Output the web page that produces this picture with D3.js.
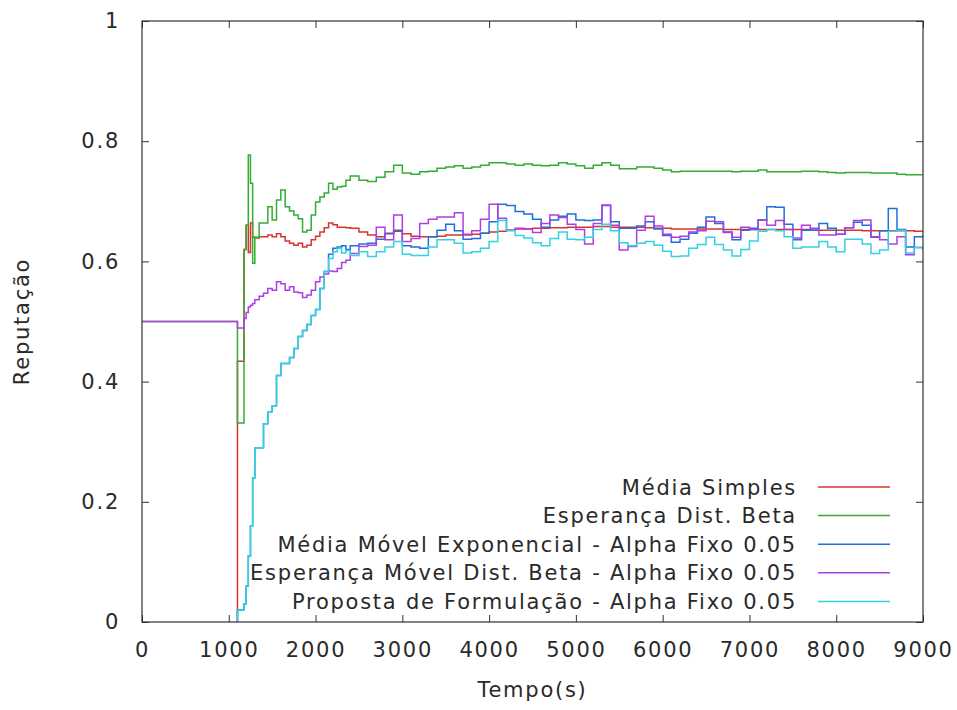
<!DOCTYPE html>
<html>
<head>
<meta charset="utf-8">
<script src="https://cdn.jsdelivr.net/npm/d3@7"></script>
<style>
  html, body { margin: 0; padding: 0; background: #fff; }
  svg { display: block; }
  text { font-family: "DejaVu Sans", sans-serif; fill: #2a2a2a; }
</style>
</head>
<body>
<svg id="chart" width="957" height="710"></svg>
<script>
// Tempo (s) de cada amostra
const tempo = [0, 1090, 1100, 1175, 1200, 1225, 1250, 1275,
  1300, 1350, 1400, 1450, 1500, 1550, 1600, 1650, 1700, 1750, 1800, 1850,
  1900, 1950, 2000, 2050, 2100, 2150, 2200, 2250, 2300, 2350, 2400,
  2500, 2600, 2700, 2800, 2900, 3000, 3100, 3200, 3300, 3400, 3500,
  3600, 3700, 3800, 3900, 4000, 4100, 4200, 4300, 4400, 4500, 4600,
  4700, 4800, 4900, 5000, 5100, 5200, 5300, 5400, 5500, 5600, 5700,
  5800, 5900, 6000, 6100, 6200, 6300, 6400, 6500, 6600, 6700, 6800,
  6900, 7000, 7100, 7200, 7300, 7400, 7500, 7600, 7700, 7800, 7900,
  8000, 8100, 8200, 8300, 8400, 8500, 8600, 8700, 8800, 8900, 9000];

// Média Simples
const mediaSimples = [null, 0, 0.434, 0.62, 0.66, 0.615, 0.664, 0.64,
  0.639, 0.641, 0.641, 0.644, 0.641, 0.646, 0.641, 0.634, 0.630, 0.627, 0.630, 0.624,
  0.627, 0.636, 0.642, 0.649, 0.656, 0.664, 0.661, 0.657, 0.657, 0.656, 0.655,
  0.649, 0.644, 0.641, 0.647, 0.650, 0.646, 0.642, 0.641, 0.641, 0.642, 0.644,
  0.644, 0.644, 0.645, 0.647, 0.649, 0.650, 0.652, 0.654, 0.654, 0.655, 0.655,
  0.656, 0.656, 0.657, 0.657, 0.657, 0.658, 0.658, 0.657, 0.657, 0.657, 0.657,
  0.656, 0.655, 0.655, 0.654, 0.654, 0.654, 0.654, 0.654, 0.654, 0.653, 0.653,
  0.653, 0.653, 0.653, 0.653, 0.653, 0.653, 0.653, 0.653, 0.652, 0.652, 0.652,
  0.652, 0.652, 0.652, 0.651, 0.651, 0.651, 0.651, 0.651, 0.651, 0.650, 0.650];

// Esperança Dist. Beta
const esperancaBeta = [0.5, 0.5, 0.331, 0.62, 0.66, 0.777, 0.73, 0.597,
  0.64, 0.664, 0.664, 0.691, 0.669, 0.702, 0.719, 0.691, 0.684, 0.677, 0.671, 0.649,
  0.652, 0.677, 0.699, 0.707, 0.714, 0.730, 0.720, 0.724, 0.725, 0.735, 0.742,
  0.735, 0.733, 0.740, 0.749, 0.760, 0.747, 0.745, 0.749, 0.750, 0.755, 0.757,
  0.759, 0.755, 0.757, 0.760, 0.764, 0.764, 0.762, 0.760, 0.762, 0.760, 0.759,
  0.760, 0.764, 0.762, 0.759, 0.755, 0.760, 0.764, 0.760, 0.754, 0.754, 0.757,
  0.757, 0.755, 0.752, 0.749, 0.750, 0.750, 0.750, 0.750, 0.750, 0.750, 0.749,
  0.750, 0.750, 0.752, 0.749, 0.749, 0.749, 0.749, 0.750, 0.750, 0.749, 0.748,
  0.747, 0.748, 0.748, 0.748, 0.747, 0.747, 0.747, 0.745, 0.744, 0.744, 0.744];

// Média Móvel Exponencial - Alpha Fixo 0.05
const mediaMovelExp = [null, 0, 0.02, 0.03, 0.06, 0.11, 0.16, 0.24,
  0.29, 0.29, 0.33, 0.35, 0.36, 0.41, 0.43, 0.43, 0.44, 0.455, 0.475, 0.485,
  0.495, 0.51, 0.52, 0.555, 0.583, 0.612, 0.622, 0.624, 0.626, 0.620, 0.626,
  0.629, 0.630, 0.637, 0.646, 0.652, 0.626, 0.624, 0.622, 0.641, 0.652, 0.662,
  0.651, 0.637, 0.638, 0.647, 0.666, 0.695, 0.693, 0.683, 0.679, 0.670, 0.657,
  0.669, 0.675, 0.679, 0.669, 0.668, 0.669, 0.693, 0.666, 0.655, 0.655, 0.659,
  0.666, 0.654, 0.643, 0.632, 0.637, 0.647, 0.657, 0.674, 0.663, 0.649, 0.636,
  0.652, 0.655, 0.669, 0.691, 0.690, 0.662, 0.636, 0.652, 0.652, 0.663, 0.655,
  0.645, 0.656, 0.665, 0.660, 0.640, 0.651, 0.688, 0.653, 0.624, 0.641, 0.644];

// Esperança Móvel Dist. Beta - Alpha Fixo 0.05
const esperancaMovelBeta = [0.5, 0.5, 0.489, 0.505, 0.515, 0.524, 0.527, 0.530,
  0.536, 0.542, 0.547, 0.555, 0.552, 0.566, 0.563, 0.552, 0.558, 0.549, 0.548, 0.540,
  0.544, 0.552, 0.566, 0.574, 0.579, 0.584, 0.583, 0.588, 0.598, 0.602, 0.613,
  0.625, 0.627, 0.657, 0.636, 0.677, 0.633, 0.638, 0.663, 0.670, 0.674, 0.674,
  0.681, 0.645, 0.651, 0.670, 0.695, 0.672, 0.652, 0.655, 0.654, 0.648, 0.663,
  0.677, 0.673, 0.662, 0.653, 0.629, 0.663, 0.694, 0.660, 0.619, 0.625, 0.652,
  0.675, 0.659, 0.645, 0.640, 0.642, 0.649, 0.651, 0.667, 0.666, 0.648, 0.640,
  0.657, 0.653, 0.669, 0.660, 0.668, 0.653, 0.639, 0.660, 0.655, 0.644, 0.644,
  0.645, 0.656, 0.668, 0.669, 0.641, 0.636, 0.629, 0.641, 0.611, 0.623, 0.619];

// Proposta de Formulação - Alpha Fixo 0.05
const proposta = [null, 0, 0.02, 0.03, 0.06, 0.11, 0.16, 0.24,
  0.29, 0.29, 0.33, 0.35, 0.36, 0.41, 0.43, 0.43, 0.44, 0.455, 0.475, 0.485,
  0.495, 0.51, 0.52, 0.555, 0.583, 0.605, 0.616, 0.622, 0.614, 0.618, 0.610,
  0.616, 0.608, 0.616, 0.624, 0.633, 0.612, 0.610, 0.610, 0.624, 0.636, 0.636,
  0.630, 0.614, 0.616, 0.622, 0.633, 0.668, 0.651, 0.643, 0.639, 0.631, 0.626,
  0.638, 0.649, 0.637, 0.636, 0.640, 0.653, 0.662, 0.651, 0.631, 0.626, 0.630,
  0.633, 0.627, 0.617, 0.608, 0.609, 0.622, 0.628, 0.640, 0.628, 0.619, 0.609,
  0.620, 0.634, 0.650, 0.653, 0.651, 0.641, 0.622, 0.624, 0.624, 0.633, 0.624,
  0.616, 0.637, 0.637, 0.629, 0.613, 0.619, 0.650, 0.652, 0.614, 0.623, 0.624];

const nomesSeries = [
  "Média Simples",
  "Esperança Dist. Beta",
  "Média Móvel Exponencial - Alpha Fixo 0.05",
  "Esperança Móvel Dist. Beta - Alpha Fixo 0.05",
  "Proposta de Formulação - Alpha Fixo 0.05"
];
const coresSeries = ["#d8342c", "#33ad33", "#1f6fdc", "#ae3de6", "#33d2e2"];
const valoresSeries = [mediaSimples, esperancaBeta, mediaMovelExp, esperancaMovelBeta, proposta];

const xTicks = [0, 1000, 2000, 3000, 4000, 5000, 6000, 7000, 8000, 9000];
const yTicks = [0, 0.2, 0.4, 0.6, 0.8, 1];
const yTickLabels = ["0", "0.2", "0.4", "0.6", "0.8", "1"];
const tituloX = "Tempo(s)";
const tituloY = "Reputação";

// ---- layout ----
const plot = { left: 142, right: 923, top: 21, bottom: 622 };
const fonte = { size: "21px", spacing: "1.75px" };
const svg = d3.select("#chart");

const x = d3.scaleLinear().domain([0, 9000]).range([plot.left, plot.right]);
const y = d3.scaleLinear().domain([0, 1]).range([plot.bottom, plot.top]);

svg.append("defs").append("clipPath").attr("id", "area")
  .append("rect")
  .attr("x", plot.left).attr("y", plot.top)
  .attr("width", plot.right - plot.left).attr("height", plot.bottom - plot.top);

// series
const linha = d3.line()
  .defined(d => d.v !== null)
  .x(d => x(d.t))
  .y(d => y(d.v))
  .curve(d3.curveStepAfter);

const gSeries = svg.append("g").attr("clip-path", "url(#area)");
valoresSeries.forEach((vals, i) => {
  const pts = tempo.map((t, k) => ({ t: t, v: vals[k] }));
  gSeries.append("path")
    .datum(pts)
    .attr("fill", "none")
    .attr("stroke", coresSeries[i])
    .attr("stroke-width", 1.5)
    .attr("stroke-linejoin", "miter")
    .attr("d", linha);
});

// axes with inward ticks, mirrored on top/right
const tickLen = 7;
const axStyle = g => {
  g.select(".domain").remove();
  g.selectAll(".tick line").attr("stroke", "#333").attr("stroke-width", 1);
  g.selectAll(".tick text").style("font-size", fonte.size).style("letter-spacing", fonte.spacing)
    .attr("fill", "#2a2a2a");
};

svg.append("g")
  .attr("transform", `translate(0,${plot.bottom})`)
  .call(d3.axisBottom(x).tickValues(xTicks).tickFormat(d3.format("d"))
    .tickSizeInner(-tickLen).tickSizeOuter(0).tickPadding(20))
  .call(axStyle);

svg.append("g")
  .attr("transform", `translate(0,${plot.top})`)
  .call(d3.axisTop(x).tickValues(xTicks).tickFormat("")
    .tickSizeInner(-tickLen).tickSizeOuter(0))
  .call(axStyle);

svg.append("g")
  .attr("transform", `translate(${plot.left},0)`)
  .call(d3.axisLeft(y).tickValues(yTicks).tickFormat((d, i) => yTickLabels[i])
    .tickSizeInner(-tickLen).tickSizeOuter(0).tickPadding(22))
  .call(axStyle);

svg.append("g")
  .attr("transform", `translate(${plot.right},0)`)
  .call(d3.axisRight(y).tickValues(yTicks).tickFormat("")
    .tickSizeInner(-tickLen).tickSizeOuter(0))
  .call(axStyle);

svg.selectAll(".tick text").attr("font-family", null);

// frame
svg.append("rect")
  .attr("x", plot.left).attr("y", plot.top)
  .attr("width", plot.right - plot.left).attr("height", plot.bottom - plot.top)
  .attr("fill", "none").attr("stroke", "#333").attr("stroke-width", 1.2);

// axis titles
svg.append("text")
  .attr("x", (plot.left + plot.right) / 2).attr("y", 697)
  .attr("text-anchor", "middle")
  .style("font-size", fonte.size).style("letter-spacing", fonte.spacing)
  .text(tituloX);

svg.append("text")
  .attr("transform", `translate(29,${(plot.top + plot.bottom) / 2}) rotate(-90)`)
  .attr("text-anchor", "middle")
  .style("font-size", fonte.size).style("letter-spacing", fonte.spacing)
  .text(tituloY);

// legend
const legX = 797, legY0 = 487, legDy = 28.6;
const gLeg = svg.append("g");
nomesSeries.forEach((nome, i) => {
  const yy = legY0 + i * legDy;
  gLeg.append("text")
    .attr("x", legX).attr("y", yy).attr("dy", "0.36em")
    .attr("text-anchor", "end")
    .style("font-size", fonte.size).style("letter-spacing", fonte.spacing)
    .text(nome);
  gLeg.append("line")
    .attr("x1", 818).attr("x2", 890).attr("y1", yy).attr("y2", yy)
    .attr("stroke", coresSeries[i]).attr("stroke-width", 1.5);
});
</script>
</body>
</html>
